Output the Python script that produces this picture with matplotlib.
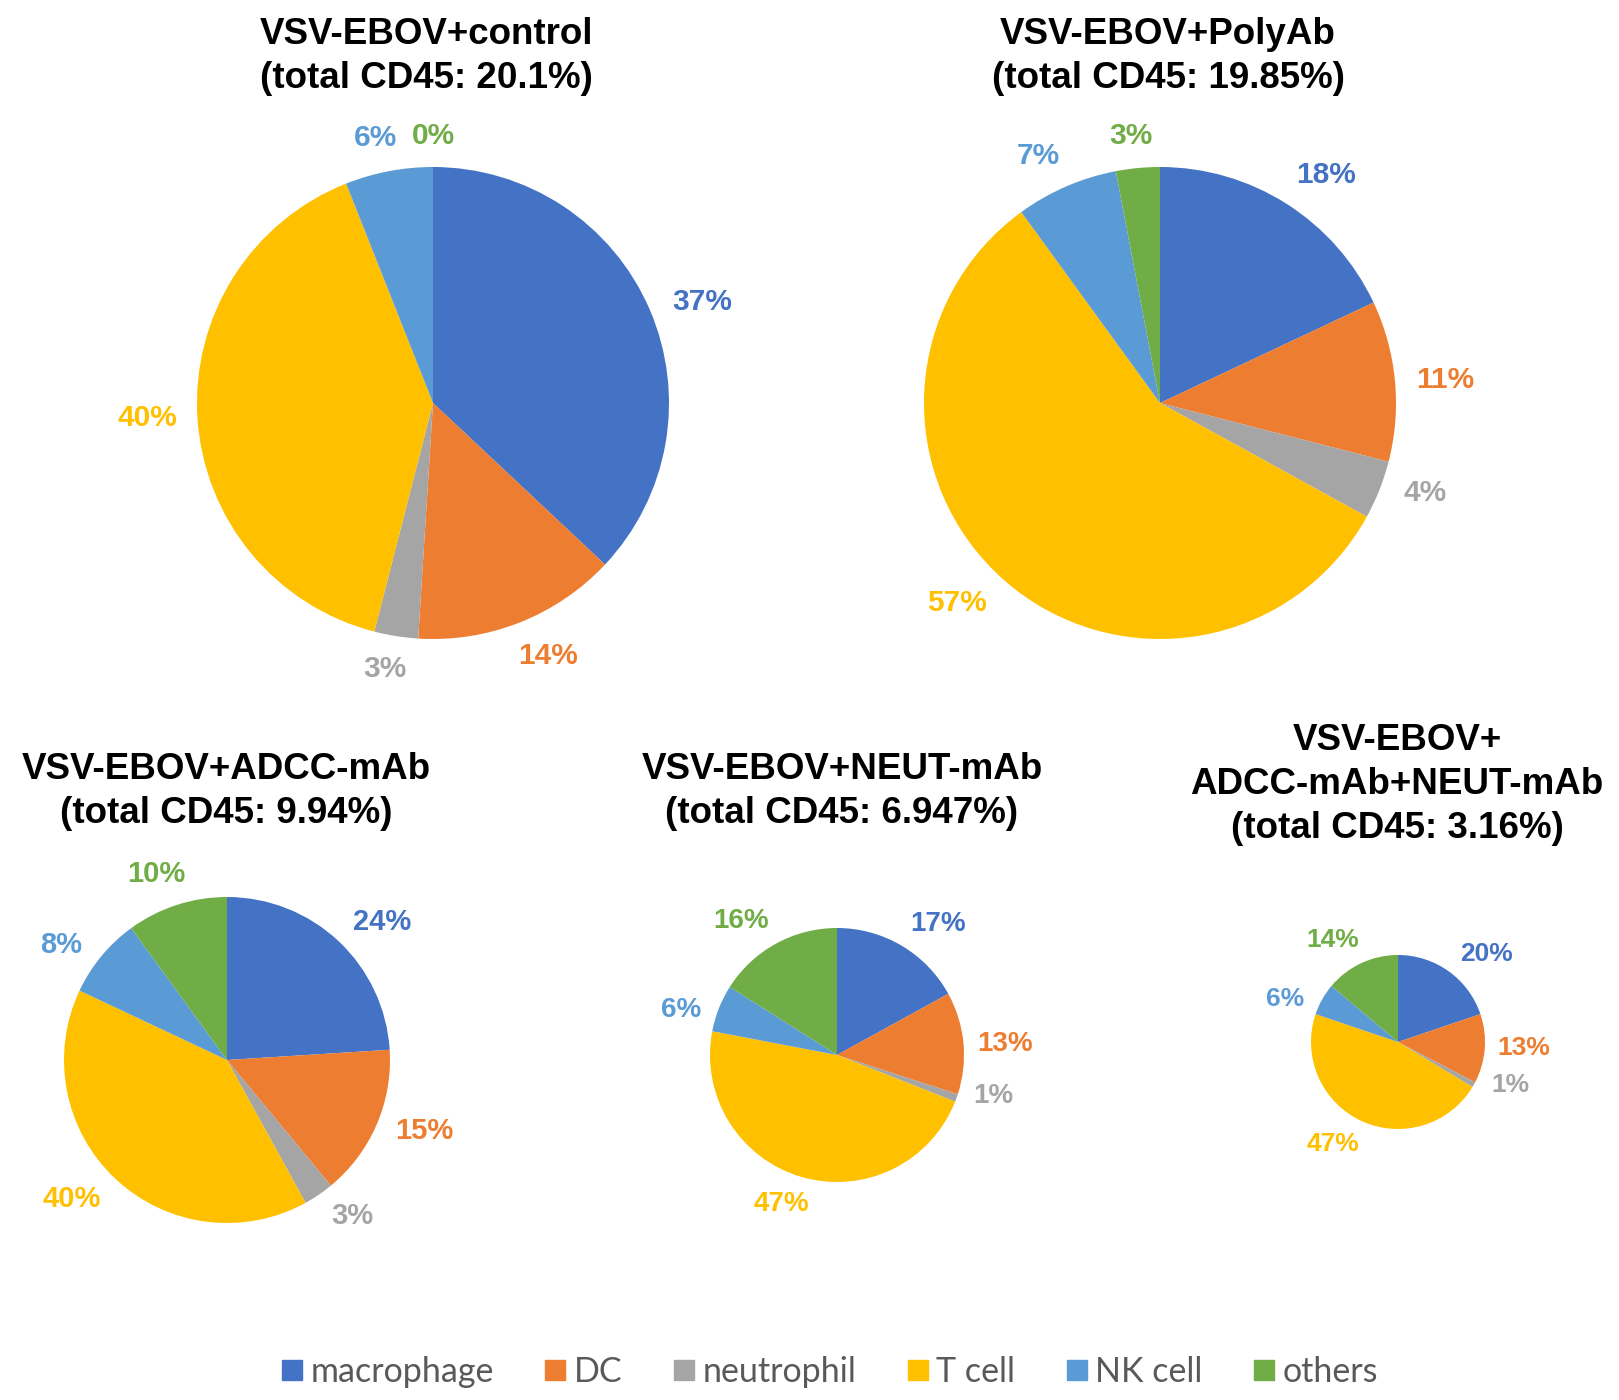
import numpy as np
import matplotlib.pyplot as plt
from matplotlib.lines import Line2D

W, H = 1619, 1400
plt.rcParams['font.family'] = ['Liberation Sans', 'DejaVu Sans']

# cell populations and Office-style colours
cells = ['macrophage', 'DC', 'neutrophil', 'T cell', 'NK cell', 'others']
colors = ['#4472C4', '#ED7D31', '#A5A5A5', '#FFC000', '#5B9BD5', '#70AD47']

# percentages per group
control = [37, 14, 3, 40, 6, 0]
polyab = [18, 11, 4, 57, 7, 3]
adcc = [24, 15, 3, 40, 8, 10]
neut = [17, 13, 1, 47, 6, 16]
combo = [20, 13, 1, 47, 6, 14]

titles = [
    ['VSV-EBOV+control', '(total CD45: 20.1%)'],
    ['VSV-EBOV+PolyAb', '(total CD45: 19.85%)'],
    ['VSV-EBOV+ADCC-mAb', '(total CD45: 9.94%)'],
    ['VSV-EBOV+NEUT-mAb', '(total CD45: 6.947%)'],
    ['VSV-EBOV+', 'ADCC-mAb+NEUT-mAb', '(total CD45: 3.16%)'],
]
groups = [control, polyab, adcc, neut, combo]

# pixel layout: pie centre x, y, radius, label size, label tilt (deg),
# label gap, title centre x, first title baseline
layout = [
    (433, 403, 236, 21.5, 4, 20, 426, 44),
    (1160, 403, 236, 21.5, 4, 20, 1168, 44),
    (227, 1060, 163, 21, 5, 16, 226, 779),
    (837, 1055, 127, 20, 8, 13, 842, 779),
    (1398, 1042, 87, 19, 10, 12, 1397, 750),
]
line_gap = 44

fig = plt.figure(figsize=(W / 100, H / 100), dpi=100)
renderer = fig.canvas.get_renderer()

for vals, ttl, (cx, cy, r, fs, k, gap, tx, ty) in zip(groups, titles, layout):
    ax = fig.add_axes([(cx - r) / W, (H - cy - r) / H, 2 * r / W, 2 * r / H])
    wedges, texts, autotexts = ax.pie(vals, colors=colors, startangle=90,
                                      counterclock=False, autopct='%.0f%%',
                                      wedgeprops=dict(linewidth=0))
    ax.set_xlim(-1, 1)
    ax.set_ylim(-1, 1)
    ax.set_aspect('equal')
    ax.axis('off')
    # outside-end labels, pulled a bit toward the horizontal like Excel does
    for w, t, c in zip(wedges, autotexts, colors):
        t.set_color(c)
        t.set_fontsize(fs)
        t.set_fontweight('bold')
        hw = t.get_window_extent(renderer).width / 2
        hh = 0.36 * fs * 100 / 72
        mid = (w.theta1 + w.theta2) / 2
        ang = np.deg2rad(mid - k * np.sin(np.deg2rad(2 * mid)))
        d = (r + gap + hw * abs(np.cos(ang)) + hh * abs(np.sin(ang))) / r
        t.set_position((d * np.cos(ang), d * np.sin(ang)))
    for i, line in enumerate(ttl):
        fig.text(tx / W, 1 - (ty + i * line_gap) / H, line, ha='center',
                 va='baseline', fontsize=26.5, fontweight='bold', color='black')

handles = [Line2D([], [], marker='s', linestyle='none', markersize=15,
                  markerfacecolor=c, markeredgecolor=c) for c in colors]
fig.legend(handles, cells, loc='center', ncol=6,
           bbox_to_anchor=(829 / W, 1 - 1372 / H), frameon=False,
           prop={'family': 'Lato', 'size': 24.5}, labelcolor='#595959',
           columnspacing=1.45, handletextpad=0.2, handlelength=0.7)

fig.savefig('out.png', dpi=100)
